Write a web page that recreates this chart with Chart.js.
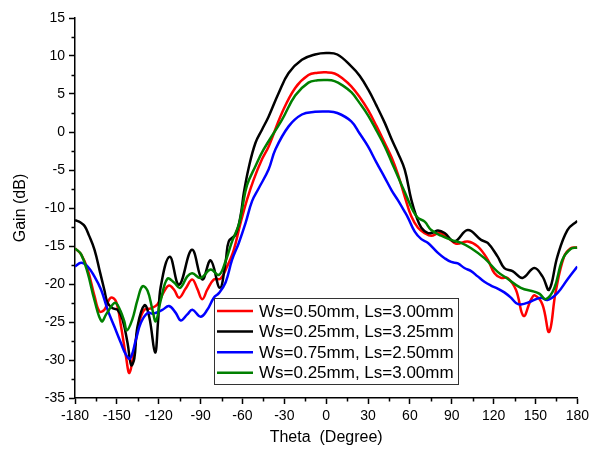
<!DOCTYPE html>
<html>
<head>
<meta charset="utf-8">
<script src="https://cdn.jsdelivr.net/npm/chart.js@4.4.1/dist/chart.umd.min.js"></script>
<style>
  html, body { margin: 0; padding: 0; background: #ffffff; }
  #wrap { width: 593px; height: 453px; }
</style>
</head>
<body>
<div id="wrap"><canvas id="gainChart" width="593" height="453"></canvas></div>
<script>
// Radiation pattern: gain (dB) versus theta (degree) for four slot geometries.

const seriesLabels = [
  'Ws=0.50mm, Ls=3.00mm',
  'Ws=0.25mm, Ls=3.25mm',
  'Ws=0.75mm, Ls=2.50mm',
  'Ws=0.25mm, Ls=3.00mm'
];

const redTheta = [-180,-175.6,-170.9,-166,-162.5,-159,-154.5,-150.6,-147,-143.5,-141,-137.5,-134,-130.4,-125.6,-121,-116.2,-112.6,-109,-105.4,-100.7,-96,-92.4,-88.8,-85.2,-80.5,-75.7,-71,-66.2,-61.4,-56.7,-52,-46,-41.2,-31.7,-22.2,-12.7,-6,0,6,12,18,24,30,36,42,47,51.5,56.3,61,65.8,70.6,75.3,81.3,87.2,93.2,101.5,108.6,115.8,120.5,125.3,130,136,141.5,146.7,149.5,155,159.8,164.5,170.5,175.2,180];
const redGain  = [-15.3,-16.1,-18.1,-21.6,-23.6,-23.4,-21.8,-22.3,-25.6,-29.5,-31.7,-28.6,-25.1,-23.4,-23.2,-22.7,-21,-20.2,-20.75,-21.8,-20.6,-19.4,-20.6,-22,-20.75,-19.4,-19.3,-17.7,-15.5,-12,-8.9,-6.3,-3.6,-1.9,2.5,5.8,7.5,7.8,7.85,7.7,7.0,6.0,4.6,2.9,0.8,-1.45,-3.4,-5.6,-8.5,-11.1,-12.6,-13.3,-13.65,-13.3,-13.9,-14.7,-14.4,-15.05,-16.8,-18.55,-19.2,-19.2,-20.75,-24.2,-22.1,-21.5,-22.7,-26.3,-21,-16.4,-15.3,-15.2];

const blackTheta = [-180,-176,-173,-170,-166,-162,-159,-156.6,-153,-149.4,-145.9,-142.3,-139.7,-137.5,-135.2,-130.2,-126.8,-122.6,-120.5,-118.5,-112.1,-105.4,-96.2,-88.8,-82.8,-76.2,-72,-69.8,-65,-61.4,-59,-55.5,-50.7,-46,-41.2,-34.1,-26.9,-17.4,-8,0,8,18.2,24,30.1,36,42,47,51.5,56.3,61,64.6,68.2,73,77,80.1,84.9,92,101.5,111,115.8,122.9,127.7,133.6,140.7,149.1,155,159.8,165.7,172.9,180];
const blackGain  = [-11.6,-11.9,-12.4,-13.6,-15.5,-18.5,-20.75,-22.5,-23.2,-23.4,-24.7,-27.8,-30.7,-29.8,-25.6,-22.8,-24.3,-29.0,-25,-20.3,-16.4,-20.1,-15.5,-19.4,-16.9,-20.5,-17,-14.4,-13.5,-11.1,-8,-4.7,-1.45,0.3,2.05,5.1,7.76,9.5,10.2,10.4,10.2,8.6,7.4,5.6,3.5,1.2,-1.0,-2.8,-4.96,-8.9,-11.1,-12.6,-13.3,-13.2,-12.95,-13.3,-14.4,-12.9,-14.2,-14.6,-16.4,-17.9,-18.3,-19.2,-17.9,-19,-20.75,-16.4,-12.9,-11.7];

const blueTheta = [-180,-175.6,-170.9,-166.1,-161.3,-156.6,-151.8,-147,-143.5,-140.5,-136.3,-132.8,-128,-124,-117.4,-112.6,-107.8,-104.2,-99.5,-95.9,-90,-85.2,-80.5,-76.9,-72.1,-67.4,-62.6,-57.8,-53.1,-48.3,-41.2,-36.4,-26.9,-17.4,-8,0,8,18,24,30,36,42,47,51.5,56.3,58.7,63.5,68.2,73,80.1,84.9,89.6,94.4,99.1,103.9,108.6,113.4,118.1,122.9,127.7,132.4,136,139.5,146.7,153.8,158.6,165.7,172.9,180];
const blueGain  = [-17.7,-17.2,-17.7,-19,-20.75,-23.4,-25.6,-27.8,-29.3,-29.8,-27.3,-25.1,-23.8,-23.9,-23.4,-22.9,-23.8,-24.8,-24.0,-23.4,-24.3,-23.4,-21.8,-21.2,-19.8,-16.8,-14.6,-12.0,-9.1,-7.4,-4.9,-2.3,0.74,2.3,2.65,2.7,2.5,1.4,-0.2,-1.9,-4.0,-6.0,-7.7,-9.0,-10.5,-11.3,-13.1,-14.1,-14.6,-15.9,-16.6,-17.1,-17.3,-17.9,-18.3,-19,-19.7,-20.2,-20.6,-21.1,-21.8,-22.5,-22.7,-22.3,-21.8,-22.1,-21.2,-19.4,-17.7];

const greenTheta = [-180,-175.6,-170.9,-166.1,-161,-157.7,-153,-150.6,-147.5,-144.7,-142.8,-139,-135.2,-131.6,-128,-124.5,-122.1,-118.5,-113.8,-109,-104.7,-99.5,-96,-90,-82.8,-76.9,-72.1,-67.4,-62.6,-60.3,-56.7,-50.7,-44.8,-31.7,-22.2,-12.7,-6,0,6,12,18.2,24,30,36,42,47,51.5,56.3,62.3,65.8,70.6,75.3,82.4,89.6,96.7,103.9,113.4,122.9,130,139.5,149.1,153,157.4,163.4,169.3,175.2,180];
const greenGain  = [-15.3,-16.1,-18.55,-22.1,-24.9,-24,-22.7,-22.5,-23.5,-24.9,-26.1,-24.7,-22.1,-20.3,-20.9,-23.4,-24.9,-22.1,-19.3,-19.8,-20.5,-19.0,-18.6,-19.2,-18.1,-18.8,-17,-14.4,-12.2,-10.2,-7.0,-4.5,-2.3,1.6,4.8,6.5,6.8,6.85,6.7,6.1,5.2,3.8,2.2,0.2,-1.9,-4.0,-5.9,-7.9,-10.4,-11.3,-11.8,-12.9,-13.65,-14.2,-14.6,-15.3,-16.6,-18.4,-19.3,-20.5,-21,-21.3,-22,-20.6,-16.8,-15.4,-15.2];

// Axis ranges and tick spacing
const thetaRange = [-180, 180];
const gainRange = [-35, 15];
const thetaMajorStep = 30, thetaMinorStep = 15;
const gainMajorStep = 5, gainMinorStep = 2.5;

const seriesColors = ['#ff0000', '#000000', '#0000ff', '#008000'];

function toPoints(theta, gain) {
  return theta.map((t, i) => ({ x: t, y: gain[i] }));
}

const FONT = '"Liberation Sans", Arial, Helvetica, sans-serif';

// Short minor ticks between the labelled ones, drawn off the scales
const minorTicks = {
  id: 'minorTicks',
  afterDraw(chart) {
    const { ctx, chartArea: a } = chart;
    const xs = chart.scales.x, ys = chart.scales.y;
    ctx.save();
    ctx.strokeStyle = '#000';
    ctx.lineWidth = 1.5;
    ctx.beginPath();
    for (let v = thetaRange[0]; v <= thetaRange[1]; v += thetaMinorStep) {
      if (v % thetaMajorStep === 0) continue;
      const px = Math.round(xs.getPixelForValue(v)) + 0.5;
      ctx.moveTo(px, a.bottom);
      ctx.lineTo(px, a.bottom + 3.5);
    }
    for (let v = gainRange[0]; v <= gainRange[1]; v += gainMinorStep) {
      if (v % gainMajorStep === 0) continue;
      const py = Math.round(ys.getPixelForValue(v)) + 0.5;
      ctx.moveTo(a.left, py);
      ctx.lineTo(a.left - 3.5, py);
    }
    ctx.stroke();
    ctx.restore();
  }
};

// Framed legend inside the plot, lower middle
const boxLegend = {
  id: 'boxLegend',
  afterDatasetsDraw(chart, args, opts) {
    const { ctx } = chart;
    const ds = chart.data.datasets;
    ctx.save();
    ctx.fillStyle = '#ffffff';
    ctx.fillRect(opts.left, opts.top, opts.width, opts.height);
    ctx.strokeStyle = '#333333';
    ctx.lineWidth = 1;
    ctx.strokeRect(opts.left + 0.5, opts.top + 0.5, opts.width, opts.height);
    ctx.font = opts.fontSize + 'px ' + FONT;
    ctx.textBaseline = 'middle';
    ctx.textAlign = 'left';
    ds.forEach((d, i) => {
      const y = opts.firstRow + i * opts.rowStep;
      ctx.strokeStyle = d.borderColor;
      ctx.lineWidth = 2.5;
      ctx.beginPath();
      ctx.moveTo(opts.left + opts.lineStart, y);
      ctx.lineTo(opts.left + opts.lineEnd, y);
      ctx.stroke();
      ctx.fillStyle = '#000';
      ctx.fillText(d.label, opts.left + opts.textStart, y + 1);
    });
    ctx.restore();
  }
};

// Later series are painted over earlier ones (green ends up on top)
const datasets = [
  toPoints(redTheta, redGain),
  toPoints(blackTheta, blackGain),
  toPoints(blueTheta, blueGain),
  toPoints(greenTheta, greenGain)
].map((pts, i, all) => ({
  label: seriesLabels[i],
  data: pts,
  borderColor: seriesColors[i],
  backgroundColor: seriesColors[i],
  borderWidth: 2.5,
  pointRadius: 0,
  fill: false,
  tension: 0.4,
  order: all.length - 1 - i
}));

new Chart(document.getElementById('gainChart'), {
  type: 'line',
  data: { datasets },
  options: {
    responsive: false,
    animation: false,
    devicePixelRatio: 1,
    layout: { padding: { top: 18, right: 13, left: 0, bottom: 0 } },
    plugins: {
      legend: { display: false },
      tooltip: { enabled: false },
      boxLegend: {
        left: 214, top: 298, width: 244, height: 86,
        lineStart: 3, lineEnd: 39, textStart: 45,
        firstRow: 311, rowStep: 20.6, fontSize: 17
      }
    },
    scales: {
      x: {
        type: 'linear',
        min: thetaRange[0], max: thetaRange[1],
        afterFit(scale) { scale.height = 55; },
        ticks: {
          stepSize: thetaMajorStep, autoSkip: false, maxRotation: 0,
          color: '#000', padding: 4,
          font: { family: FONT, size: 14 }
        },
        grid: {
          drawOnChartArea: false, drawTicks: true, tickLength: 6,
          tickColor: '#000', tickWidth: 1.5
        },
        border: { display: true, color: '#000', width: 1.5 },
        title: {
          display: true, text: 'Theta  (Degree)', color: '#000',
          font: { family: FONT, size: 16 }, padding: { top: 4, bottom: 5.5 }
        }
      },
      y: {
        type: 'linear',
        min: gainRange[0], max: gainRange[1],
        afterFit(scale) { scale.width = 75; },
        ticks: {
          stepSize: gainMajorStep, color: '#000', padding: 4,
          font: { family: FONT, size: 14 }
        },
        grid: {
          drawOnChartArea: false, drawTicks: true, tickLength: 6,
          tickColor: '#000', tickWidth: 1.5
        },
        border: { display: true, color: '#000', width: 1.5 },
        title: {
          display: true, text: 'Gain (dB)', color: '#000',
          font: { family: FONT, size: 16 }, padding: { top: 11, bottom: 4 }
        }
      }
    }
  },
  plugins: [minorTicks, boxLegend]
});
</script>
</body>
</html>
